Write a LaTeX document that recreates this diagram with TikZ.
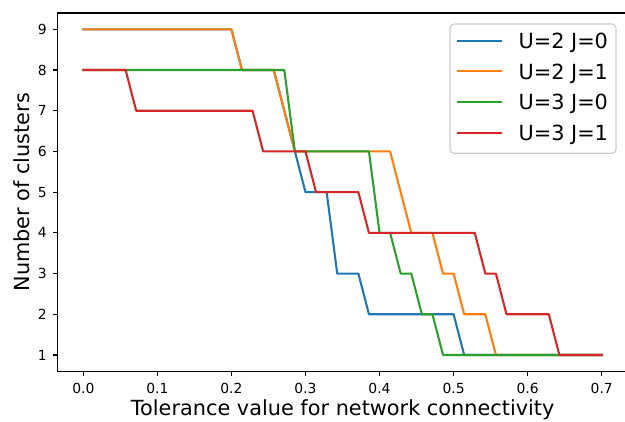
\documentclass[tikz,border=0pt]{standalone}
\usepackage{fontspec}
\setmainfont{DejaVu Sans}
\definecolor{cblue}{HTML}{1F77B4}
\definecolor{corange}{HTML}{FF7F0E}
\definecolor{cgreen}{HTML}{2CA02C}
\definecolor{cred}{HTML}{D62728}
\tikzset{
  curve/.style={line width=1.5pt, line join=round, line cap=rect},
  spine/.style={line width=0.8pt, black},
  tickmark/.style={line width=0.8pt, black},
  ticklabel/.style={inner sep=0pt, font=\fontsize{10}{12}\selectfont},
  axislabel/.style={inner sep=0pt, font=\fontsize{15}{18}\selectfont},
  legendtext/.style={inner sep=0pt, anchor=base west, font=\fontsize{15}{18}\selectfont},
  legendframe/.style={draw=black!20, line width=0.8pt, fill=white, fill opacity=0.8, rounded corners=3}
}
\begin{document}
\begin{tikzpicture}[x=0.72pt,y=-0.72pt]
\useasboundingbox (0,0) rectangle (625,421);

% axes frame (left, top, bottom)
\draw[spine] (628,13) -- (57.4,13) -- (57.4,371.3) -- (628,371.3);

% data area: x = sample index (0.7/49 per step), y = number of clusters
\begin{scope}[shift={(83.3,395.7)}, x=7.6176pt, y=29.311pt]
  % y ticks (left spine sits at index -2.45)
  \foreach \v in {1,...,9} {
    \draw[tickmark] (-2.45,\v) -- ++(-4.86*0.72pt,0);
    \node[ticklabel, anchor=east] (yt\v) at ([xshift=-10.3*0.72pt]-2.45,\v) {\v};
  }
  % x ticks
  \foreach \k/\lab in {0/0.0,1/0.1,2/0.2,3/0.3,4/0.4,5/0.5,6/0.6,7/0.7} {
    \draw[tickmark] (7*\k,0.6) -- ++(0,-4.86*0.72pt);
    \node[ticklabel, anchor=base] (xt\k) at ([yshift=-22*0.72pt]7*\k,0.6) {\lab};
  }
  % curves
  \draw[curve, cblue] (0,9) -- (14,9) -- (15,8) -- (18,8) -- (20,6) -- (21,5) -- (23,5)
    -- (24,3) -- (26,3) -- (27,2) -- (35,2) -- (36,1) -- (49,1);
  \draw[curve, corange] (0,9) -- (14,9) -- (15,8) -- (18,8) -- (20,6) -- (29,6) -- (31,4)
    -- (33,4) -- (34,3) -- (35,3) -- (36,2) -- (38,2) -- (39,1) -- (49,1);
  \draw[curve, cgreen] (0,8) -- (19,8) -- (20,6) -- (27,6) -- (28,4) -- (29,4) -- (30,3)
    -- (31,3) -- (32,2) -- (33,2) -- (34,1) -- (49,1);
  \draw[curve, cred] (0,8) -- (4,8) -- (5,7) -- (16,7) -- (17,6) -- (21,6) -- (22,5)
    -- (26,5) -- (27,4) -- (37,4) -- (38,3) -- (39,3) -- (40,2) -- (44,2) -- (45,1) -- (49,1);
\end{scope}

% axis labels
\node[axislabel, anchor=base] (xlabel) at (342.7,415.5) {Tolerance value for network connectivity};
\node[axislabel, anchor=base, rotate=90] (ylabel) at (29.3,192.2) {Number of clusters};

% legend
\draw[legendframe] (450,24) rectangle (616,153.3);
\foreach \c/\y/\lab [count=\n] in {cblue/40.7/{U=2 J=0}, corange/71.3/{U=2 J=1}, cgreen/102/{U=3 J=0}, cred/132.7/{U=3 J=1}} {
  \coordinate (la\n) at (457.3,\y);
  \coordinate (lb\n) at (501.7,\y);
  \draw[curve, line cap=butt, \c] (la\n) -- (lb\n);
  \node[legendtext] (lt\n) at (518.3,\y+7.7) {\lab};
}
\end{tikzpicture}
\end{document}
